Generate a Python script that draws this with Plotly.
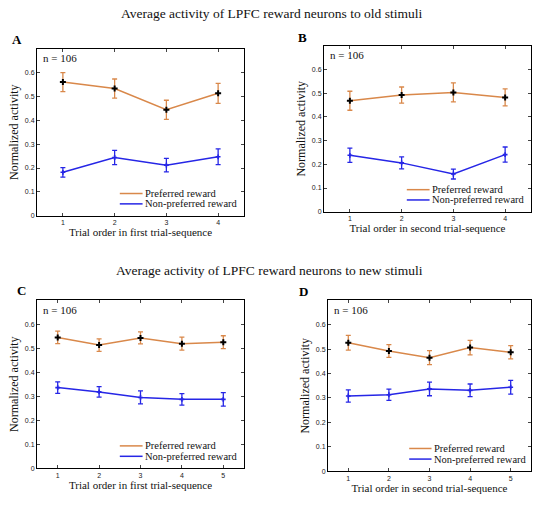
import plotly.graph_objects as go

# Panel data (mean, error)
trials_4 = [1, 2, 3, 4]
trials_5 = [1, 2, 3, 4, 5]

a_pref = [0.56, 0.533, 0.444, 0.513]
a_pref_err = [0.04, 0.04, 0.04, 0.042]
a_non = [0.182, 0.244, 0.212, 0.247]
a_non_err = [0.02, 0.03, 0.028, 0.033]

b_pref = [0.468, 0.492, 0.503, 0.482]
b_pref_err = [0.04, 0.034, 0.04, 0.036]
b_non = [0.238, 0.206, 0.159, 0.241]
b_non_err = [0.03, 0.025, 0.021, 0.032]

c_pref = [0.545, 0.513, 0.543, 0.519, 0.525]
c_pref_err = [0.026, 0.026, 0.025, 0.027, 0.027]
c_non = [0.336, 0.318, 0.295, 0.287, 0.287]
c_non_err = [0.024, 0.022, 0.027, 0.024, 0.028]

d_pref = [0.526, 0.492, 0.465, 0.506, 0.487]
d_pref_err = [0.03, 0.026, 0.029, 0.03, 0.027]
d_non = [0.308, 0.313, 0.337, 0.331, 0.344]
d_non_err = [0.025, 0.023, 0.028, 0.026, 0.028]

y_ticks = [0, 0.1, 0.2, 0.3, 0.4, 0.5, 0.6]
y_tick_labels = ["0", "0.1", "0.2", "0.3", "0.4", "0.5", "0.6"]

titles = ["Average activity of LPFC reward neurons to old stimuli",
          "Average activity of LPFC reward neurons to new stimuli"]
x_titles = ["Trial order in first trial-sequence", "Trial order in second trial-sequence",
            "Trial order in first trial-sequence", "Trial order in second trial-sequence"]
letters = ["A", "B", "C", "D"]

ORANGE = "#d9884a"
BLUE = "#2626e6"
SERIF = "Liberation Serif"
SANS = "Liberation Sans"
W, H = 535, 511

panels = [
    (trials_4, a_pref, a_pref_err, a_non, a_non_err),
    (trials_4, b_pref, b_pref_err, b_non, b_non_err),
    (trials_5, c_pref, c_pref_err, c_non, c_non_err),
    (trials_5, d_pref, d_pref_err, d_non, d_non_err),
]
# pixel boxes of each axes: left, right, top, bottom
boxes = [(37, 244, 49, 217), (324, 531, 46, 213), (37, 244, 302, 471), (328, 531, 302, 474)]
letter_pos = [(17, 40), (302, 38), (21, 292), (303, 293)]

fig = go.Figure()
annotations = []
shapes = []

for i, (x, pref, pref_err, non, non_err) in enumerate(panels):
    n = i + 1
    xa = "x" if n == 1 else f"x{n}"
    ya = "y" if n == 1 else f"y{n}"
    l, r, t, b = boxes[i]

    fig.add_trace(go.Scatter(
        x=x, y=pref, mode="lines+markers", xaxis=xa, yaxis=ya, showlegend=False,
        line=dict(color=ORANGE, width=1.5),
        marker=dict(symbol="cross", size=5, color="black"),
        error_y=dict(type="data", array=pref_err, color=ORANGE, thickness=1.3, width=2.5)))
    fig.add_trace(go.Scatter(
        x=x, y=non, mode="lines+markers", xaxis=xa, yaxis=ya, showlegend=False,
        line=dict(color=BLUE, width=1.5),
        marker=dict(symbol="cross", size=4, color=BLUE),
        error_y=dict(type="data", array=non_err, color=BLUE, thickness=1.3, width=2.5)))

    axis_common = dict(showline=True, linecolor="black", linewidth=1, mirror="ticks",
                       ticks="inside", ticklen=3, tickcolor="#444", showgrid=False,
                       zeroline=False, tickfont=dict(family=SANS, size=7, color="#222"))
    fig.layout[f"xaxis{'' if n == 1 else n}"] = dict(
        domain=[l / W, r / W], anchor=ya, range=[0.5, len(x) + 0.5],
        tickvals=x, ticktext=[str(v) for v in x],
        title=dict(text=x_titles[i], font=dict(family=SERIF, size=11, color="#111"), standoff=3),
        **axis_common)
    fig.layout[f"yaxis{'' if n == 1 else n}"] = dict(
        domain=[1 - b / H, 1 - t / H], anchor=xa, range=[0, 0.7],
        tickvals=y_ticks, ticktext=y_tick_labels,
        title=dict(text="Normalized activity", font=dict(family=SERIF, size=12, color="#111"), standoff=3),
        **axis_common)

    dx = f"{xa} domain"
    dy = f"{ya} domain"
    annotations.append(dict(text="n = 106", xref=dx, yref=dy, x=0.02, y=0.99,
                            xanchor="left", yanchor="top", showarrow=False,
                            font=dict(family=SERIF, size=11, color="#111")))
    # legend drawn inside the lower right
    for k, (name, col) in enumerate([("Preferred reward", ORANGE), ("Non-preferred reward", BLUE)]):
        yy = 0.133 - k * 0.062
        shapes.append(dict(type="line", xref=dx, yref=dy, x0=0.40, x1=0.51, y0=yy, y1=yy,
                           line=dict(color=col, width=1.5)))
        annotations.append(dict(text=name, xref=dx, yref=dy, x=0.51, y=yy,
                                xanchor="left", yanchor="middle", showarrow=False,
                                font=dict(family=SERIF, size=10.5, color="#111")))
    lx, ly = letter_pos[i]
    annotations.append(dict(text=f"<b>{letters[i]}</b>", xref="paper", yref="paper",
                            x=lx / W, y=1 - ly / H, xanchor="center", yanchor="middle",
                            showarrow=False, font=dict(family=SERIF, size=13, color="black")))

annotations.append(dict(text=titles[0], xref="paper", yref="paper", x=271 / W, y=1 - 14 / H,
                        xanchor="center", yanchor="middle", showarrow=False,
                        font=dict(family=SERIF, size=13.5, color="#111")))
annotations.append(dict(text=titles[1], xref="paper", yref="paper", x=270 / W, y=1 - 272 / H,
                        xanchor="center", yanchor="middle", showarrow=False,
                        font=dict(family=SERIF, size=13.5, color="#111")))

fig.update_layout(width=W, height=H, margin=dict(l=0, r=0, t=0, b=0),
                  paper_bgcolor="white", plot_bgcolor="white",
                  annotations=annotations, shapes=shapes)

fig.write_html("out.html", config={"displayModeBar": False},
               post_script="document.body.style.margin='0';")
